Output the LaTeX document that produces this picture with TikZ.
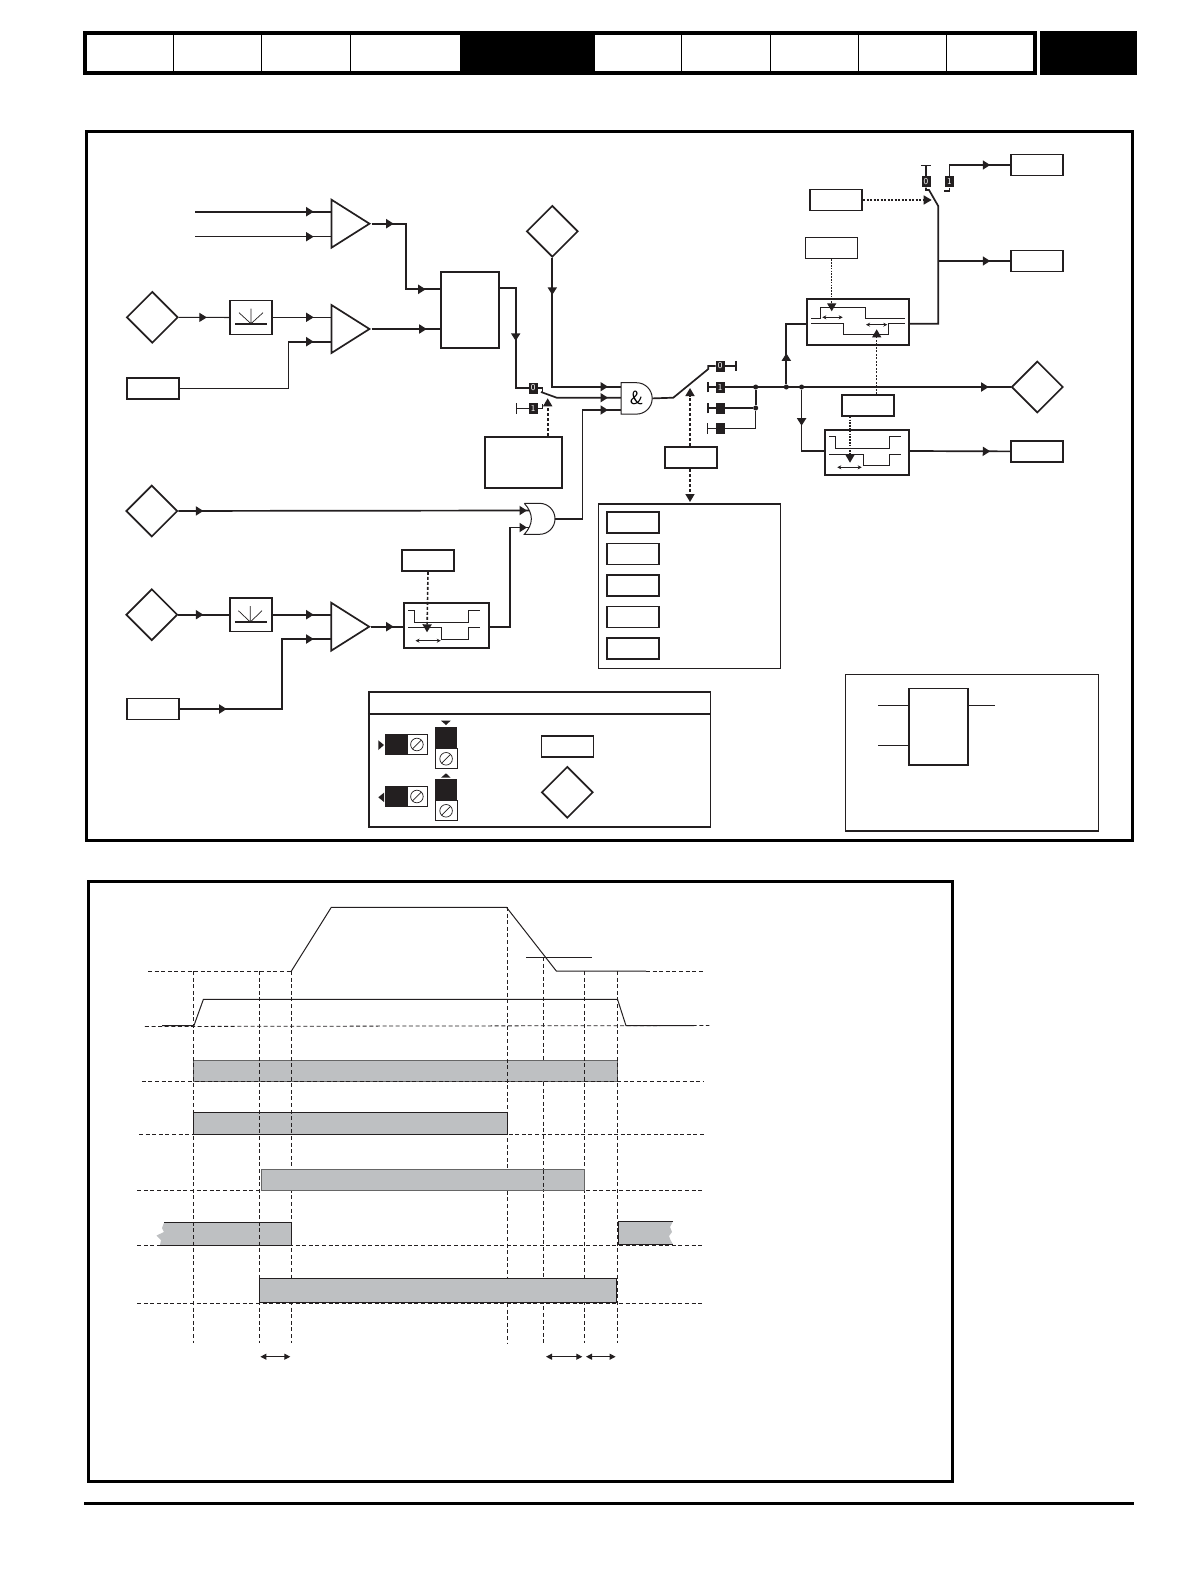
\documentclass[tikz,border=0pt]{standalone}
\usepackage{tikz}
\usetikzlibrary{arrows.meta,shapes.geometric,decorations.markings,positioning}
\definecolor{darkline}{HTML}{231F20}
\definecolor{bargrey}{HTML}{BEC0C2}
\tikzset{mid/.style={postaction={decorate,decoration={markings,
  mark=at position #1 with {\arrow{Triangle[length=7.5pt,width=9pt]}}}}}}
\tikzstyle{wire}=[draw=darkline,line width=1.7pt,line join=miter]
\tikzstyle{wirethin}=[wire,line width=1.1pt]
\tikzstyle{param}=[draw=darkline,line width=1.7pt,fill=white,inner sep=0,minimum width=52pt,minimum height=21pt]
\tikzstyle{diam}=[draw=darkline,line width=1.7pt,diamond,fill=white,inner sep=0,minimum width=51.5pt,minimum height=51.5pt]
\tikzstyle{amp}=[draw=darkline,line width=1.7pt,isosceles triangle,isosceles triangle stretches,inner sep=0,fill=white,minimum width=48pt,minimum height=38pt,anchor=apex]
\tikzstyle{term}=[fill=darkline,text=white,inner sep=0,minimum width=9pt,minimum height=11pt,font=\sffamily\fontsize{9}{9}\selectfont]
\tikzstyle{stub}=[wire,{Bar[width=10.5pt,length=1pt]}-]
\tikzstyle{blob}=[fill=darkline,circle,inner sep=0,minimum size=5pt]
\tikzstyle{box}=[draw=darkline,line width=1.7pt,fill=white,inner sep=0]
\tikzstyle{ramp}=[box,minimum width=42pt,minimum height=33.8pt]
\tikzstyle{gateline}=[draw=darkline,line width=1pt,fill=white]
\tikzstyle{ctl}=[draw=darkline,line width=1.6pt,dash pattern=on 3pt off 2pt,-{Triangle[length=8pt,width=9pt]}]
\tikzstyle{ctlthin}=[ctl,line width=1pt,dash pattern=on 2pt off 1.5pt]
\tikzstyle{gap}=[draw=darkline,line width=.8pt,{Stealth[length=4pt,width=4pt]}-{Stealth[length=4pt,width=4pt]}]
\tikzstyle{trace}=[draw=darkline,line width=1pt]
\tikzstyle{potbox}=[draw=darkline,line width=.8pt,fill=white,inner sep=0,minimum width=20pt,minimum height=20pt]
\tikzstyle{potring}=[draw=darkline,line width=.7pt,circle,inner sep=0,minimum size=12.6pt,
  path picture={\draw[darkline,line width=.7pt] (path picture bounding box.south west) -- (path picture bounding box.north east);}]
\tikzstyle{grid}=[draw=darkline,line width=.8pt,dash pattern=on 4pt off 2.6pt]
\tikzstyle{bar}=[draw=black!60,line width=1pt,fill=bargrey]
\tikzstyle{solidtrace}=[draw=darkline,line width=1pt]

\begin{document}
\begin{tikzpicture}[x=1pt,y=-1pt,node distance=31.5pt,on grid]
  \useasboundingbox (0,0) rectangle (1190,1582);

  % header strip
  \draw[black,line width=3.6pt] (84.8,33) rectangle (1035.2,73);
  \fill[black] (460.4,33) rectangle (595,73);
  \fill[black] (1040,31) rectangle (1137,75);
  \draw[black,line width=.7pt] (173,33) -- (173,73) (261.8,33) -- (261.8,73) (350.5,33) -- (350.5,73);
  \draw[black,line width=.7pt] (681.6,33) -- (681.6,73) (770,33) -- (770,73) (858.4,33) -- (858.4,73) (946.5,33) -- (946.5,73);

  % frames
  \draw[black,line width=3pt] (86.5,131) rectangle (1132.5,840);
  \draw[black,line width=3pt] (88.5,881) rectangle (952.5,1481);
  \draw[black,line width=2.4pt] (84,1503.5) -- (1134,1503.5);

  % inputs
  \node[diam] (din1) at (152.3,317.3) {};
  \node[diam] (din2) at (151.8,511) {};
  \node[diam] (din3) at (151.8,614.7) {};
  \node[diam] (dtop) at (552.3,231.3) {};
  \node[param] (parA) at (152.7,388.5) {};
  \node[param] (parB) at (152.8,709) {};
  \node[ramp] (ramp1) at (250.7,317.5) {};
  \node[ramp] (ramp2) at (250.7,614.7) {};
  \draw[darkline,line width=1.6pt] (235,323.7) -- (267,323.7);
  \draw[darkline,line width=.7pt] (251,308.7) -- (251,323.7) (239,312.7) -- (251,323.7) -- (263,312.7);
  \draw[darkline,line width=1.6pt] (234.8,622) -- (266.5,622);
  \draw[darkline,line width=.7pt] (250.3,606) -- (250.3,622) (238.4,610.7) -- (250.3,622) -- (262,610.7);

  \node[amp] (amp1) at (371.7,223.7) {};
  \node[amp] (amp2) at (371.7,329) {};
  \node[amp] (amp3) at (371.4,626.7) {};
  \coordinate (src1) at (195,211.7);
  \coordinate (src2) at (195,236.7);
  \coordinate (amp1a) at (331.7,211.7);
  \coordinate (amp1b) at (331.7,236.7);
  \coordinate (amp2a) at (331.7,317.3);
  \coordinate (amp2b) at (331.7,341.7);
  \coordinate (amp3a) at (331.7,614.7);
  \coordinate (amp3b) at (331.7,639);

  \node[box,minimum width=58.6pt,minimum height=76.6pt] (calc) at (470,310) {};
  \coordinate (calcA) at (440.7,289.3);
  \coordinate (calcB) at (440.7,329);
  \coordinate (calcO) at (499.3,288.3);

  \draw[wire,mid=-18pt] (src1) -- (amp1a);
  \draw[wirethin,mid=-18pt] (src2) -- (amp1b);
  \draw[wire,mid=22pt,mid=-15pt] (amp1.apex) -- ++(34,0) |- (calcA);
  \draw[wire,mid=-14pt] (amp2.apex) -- (calcB);
  \draw[wirethin,mid=28pt] (din1) -- (ramp1);
  \draw[wirethin,mid=-18pt] (ramp1.east |- amp2a) -- (amp2a);
  \draw[wire,mid=-18pt] (parA.east) -- ++(109,0) |- (amp2b);

  % selector before the gate
  \node[term] (sel0) at (533.2,388) {0};
  \node[term] (sel1) at (533.2,408.5) {1};
  \coordinate (sel1T) at (515.7,408.5);
  \coordinate (selknee) at (556.7,397.7);
  \draw[wire,mid=69pt] (calcO) -- ++(16.4,0) |- (sel0);
  \draw[stub,line width=1.1pt] (sel1T) -- (sel1);
  \draw[wirethin] (sel0.east) -- ++(4.3,0) -- ++(0,4.5);
  \draw[wirethin] (sel1.east) -- ++(4.3,0) -- ++(0,-4.5);

  % gates
  \coordinate (andA) at (621,386.7);
  \coordinate (andB) at (621,397.7);
  \coordinate (andC) at (621,410);
  \coordinate (orA) at (529,510.5);
  \coordinate (orB) at (529,527.5);
  \coordinate (orO) at (555,519);

  \draw[wire,mid=37pt,mid=-13pt] (dtop.south) |- (andA);
  \draw[wire,mid=-13pt] (541,392) -- (selknee) -- (andB);
  \draw[wire,mid=-13pt] (orO) -- ++(27.4,0) |- (andC);
  \draw[wire,mid=25pt,mid=-2pt] (din2) -- (orA);
  \draw[wire,mid=25pt] (din3) -- (ramp2);
  \draw[wire,mid=-18pt] (ramp2.east |- amp3a) -- (amp3a);
  \draw[wire,mid=47pt,mid=-18pt] (parB.east) -- ++(102.3,0) |- (amp3b);

  \draw[gateline] (621,382.7) -- (636.5,382.7) arc (-90:90:15.7) -- (621,414) -- cycle;
  \node[inner sep=0,minimum width=31pt,minimum height=31.4pt,font=\sffamily\fontsize{19}{19}\selectfont] (gand) at (636.6,398.4) {\&};
  \draw[gateline,fill=none] (524.3,503.3) -- (539.5,503.3) arc (-90:90:15.5) -- (524.3,534.3) .. controls (533.7,524) and (533.7,513.6) .. (524.3,503.3);
  \node[inner sep=0,minimum width=30pt,minimum height=31pt] (gor) at (539.5,518.8) {};

  \node[box,minimum width=77.6pt,minimum height=51.6pt] (enbox) at (523.5,462.5) {};
  \coordinate (enup) at (547.7,398.3);
  \draw[ctl] (enbox.north -| enup) -- (enup);

  % comparator with the window on the lower input
  \node[box,minimum width=85pt,minimum height=45pt] (hyst3) at (446.2,625.8) {};
  \node[param] (parH3) at (428,560.5) {};
  \coordinate (hyst3tip) at (427,632.3);
  \coordinate (hyst3in) at (403.7,626.7);
  \coordinate (hyst3out) at (488.7,626.7);
  \draw[wire,mid=-10pt] (amp3.apex) -- (hyst3in);
  \draw[wire,mid=-2pt] (hyst3out) -- ++(21.3,0) |- (orB);
  \draw[trace] (408.4,610.3) -- (414.4,610.3) -- (414.4,622.3) -- (468.5,622.3) -- (468.5,610.3) -- (479.6,610.3);
  \draw[trace] (408.4,627) -- (441.6,627) -- (441.6,639.7) -- (468.5,639.7) -- (468.5,627) -- (479.6,627);
  \draw[gap] (415.5,640.7) -- (440.8,640.7);
  \draw[ctl] (parH3.south) -- (hyst3tip);

  % output selector
  \coordinate (gknee) at (673.3,397.7);
  \node[term] (out0) at (720.3,366) {0};
  \node[term] (out1) at (720.3,387) {1};
  \node[term] (out2) at (720.3,408) {};
  \node[term] (out3) at (720.3,428.3) {};
  \coordinate (out0T) at (736.7,366);
  \coordinate (out1T) at (707.3,387);
  \coordinate (out2T) at (707.3,408);
  \coordinate (out3T) at (707.3,428.3);
  \node[blob] (j1) at (755.7,387) {};
  \node[blob] (j2) at (755.7,408) {};
  \node[blob] (j3) at (786.3,387) {};
  \node[blob] (j4) at (801.6,387) {};
  \node[diam] (dmain) at (1037.3,387) {};
  \draw[wire] (gand.east) -- (gknee) -- (708.3,369) -- (708.3,366) -- (out0);
  \draw[stub] (out0T) -- (out0);
  \draw[stub] (out1T) -- (out1);
  \draw[stub] (out2T) -- (out2);
  \draw[stub,line width=1.1pt] (out3T) -- (out3);
  \draw[wire,mid=-22pt] (out1) -- (dmain);
  \draw[wire] (out2) -- (j2);
  \draw[wirethin] (out3) -| (j2);
  \draw[wire] (j1) -- (j2);

  \node[param] (parS) at (691.2,457.5) {};
  \coordinate (ptrU) at (690,388);
  \coordinate (ptrD) at (690,502);
  \draw[ctl] (parS.north -| ptrU) -- (ptrU);
  \draw[ctl] (parS.south -| ptrD) -- (ptrD);

  % mode list
  \node[box,minimum width=182pt,minimum height=164.3pt] (modes) at (689.6,586.2) {};
  \node[param] (m1) at (632.8,522.5) {};
  \node[param,below=of m1] (m2) {};
  \node[param,below=of m2] (m3) {};
  \node[param,below=of m3] (m4) {};
  \node[param,below=of m4] (m5) {};

  % upper window comparator
  \node[box,minimum width=101.4pt,minimum height=46pt] (hyst1) at (858,322.3) {};
  \node[param] (parH1) at (831.4,248) {};
  \node[param] (parH2) at (868,405.5) {};
  \coordinate (hyst1in) at (807.3,323.7);
  \coordinate (hyst1out) at (908.7,323.7);
  \coordinate (hyst1t1) at (831.7,311.3);
  \coordinate (hyst1t2) at (876.7,329.3);
  \draw[wire,mid=31pt] (j3) |- (hyst1in);
  \draw[trace] (811,318.3) -- (820.3,318.3) -- (820.3,307.3) -- (865.7,307.3) -- (865.7,318.3) -- (905,318.3);
  \draw[trace] (811,323.3) -- (843.3,323.3) -- (843.3,334.3) -- (888.7,334.3) -- (888.7,323.3) -- (905,323.3);
  \draw[gap] (822.3,317.3) -- (842.7,317.3);
  \draw[gap] (866,324.7) -- (887.3,324.7);
  \draw[ctl,line width=1.3pt,dash pattern=on 1.6pt off 1.2pt] (parH1.south -| hyst1t1) -- (hyst1t1);
  \draw[ctlthin] (parH2.north -| hyst1t2) -- (hyst1t2);

  % lower window comparator
  \node[box,minimum width=84.6pt,minimum height=45pt] (hyst2) at (867,452.2) {};
  \coordinate (hyst2in) at (824.7,451);
  \coordinate (hyst2out) at (909.3,451);
  \coordinate (hyst2t) at (850,462.7);
  \draw[wire,mid=36pt] (j4) |- (hyst2in);
  \draw[trace] (829.3,436.3) -- (835.3,436.3) -- (835.3,448.3) -- (889.7,448.3) -- (889.7,436.3) -- (900.7,436.3);
  \draw[trace] (829.3,454.3) -- (863.3,454.3) -- (863.3,465.3) -- (889.7,465.3) -- (889.7,454.3) -- (900.7,454.3);
  \draw[gap] (837.3,467.3) -- (861.7,467.3);
  \draw[ctl,line width=1.3pt,dash pattern=on 1.6pt off 1.2pt] (parH2.south -| hyst2t) -- (hyst2t);

  % outputs
  \node[param] (parT) at (1037.1,165) {};
  \node[param] (parM) at (1037.1,261) {};
  \node[param] (parL) at (1037.1,451.5) {};
  \node[param] (parC) at (836.2,200) {};
  \node[term,minimum width=9pt,minimum height=11.6pt] (top0) at (926,181.5) {0};
  \node[term,minimum width=9pt,minimum height=11.6pt] (top1) at (949.4,181.5) {1};
  \coordinate (top0T) at (926,164.7);
  \coordinate (top1B) at (944,190.7);
  \coordinate (topknee) at (938.2,206);
  \coordinate (topjoin) at (938.2,261);
  \coordinate (topptr) at (931.7,200);
  \draw[wire,mid=-20pt] (hyst2out) -- (parL);
  \draw[wire,mid=-20pt] (topjoin) -- (parM);
  \draw[wire] (hyst1out) -| (topknee) -- (929,190) -- (926,190) -- (top0.south);
  \draw[stub] (top0T) -- (top0);
  \draw[wire,mid=-20pt] (top1.north) |- (parT);
  \draw[wire] (top1.south) |- (top1B);
  \draw[ctlthin,line width=1.3pt] (parC) -- (topptr);

  % key
  \node[box,minimum width=341.6pt,minimum height=135pt] (key) at (539.6,759.3) {};
  \draw[darkline,line width=1.7pt] (key.west |- 0,713.7) -- (key.east |- 0,713.7);
  \node[fill=darkline,inner sep=0,minimum width=21.7pt,minimum height=20.4pt] (kh1) at (395.8,744.5) {};
  \node[potbox,right=21.1pt of kh1] (kp1) {};
  \node[potring] (kr1) at (kp1) {};
  \node[fill=darkline,inner sep=0,minimum width=21.7pt,minimum height=20.4pt] (kh2) at (395.8,796.5) {};
  \node[potbox,right=21.1pt of kh2] (kp2) {};
  \node[potring] (kr2) at (kp2) {};
  \node[fill=darkline,inner sep=0,minimum width=21.7pt,minimum height=21.7pt] (kv1) at (446.1,737.8) {};
  \node[potbox,below=21pt of kv1,minimum width=21.7pt] (kq1) {};
  \node[potring] (ks1) at (kq1) {};
  \node[fill=darkline,inner sep=0,minimum width=21.7pt,minimum height=21.7pt] (kv2) at (446.1,789.8) {};
  \node[potbox,below=21pt of kv2,minimum width=21.7pt] (kq2) {};
  \node[potring] (ks2) at (kq2) {};
  \fill[darkline] (378.3,740.3) -- (384,745) -- (378.3,750) -- cycle;
  \fill[darkline] (378.3,797.3) -- (384,792.7) -- (384,802) -- cycle;
  \fill[darkline] (441,720.7) -- (450.7,720.7) -- (446,725) -- cycle;
  \fill[darkline] (441,777.7) -- (450.7,777.7) -- (446,773.3) -- cycle;
  \node[param] (kpar) at (567.5,746.5) {};
  \node[diam] (kdiam) at (567.3,792.3) {};

  % inset
  \draw[darkline,line width=1.3pt] (845.8,674.3) rectangle (1098.2,831);
  \node[box,minimum width=59pt,minimum height=76.7pt] (inset) at (938.8,726.7) {};
  \coordinate (insetA) at (878,705.3);
  \coordinate (insetB) at (878,745.3);
  \coordinate (insetO) at (995,705.3);
  \draw[wirethin] (insetA) -- (inset.west |- insetA);
  \draw[wirethin] (insetB) -- (inset.west |- insetB);
  \draw[wirethin] (inset.east |- insetO) -- (insetO);

  % timing chart, bars below the guides
  \draw[bar] (193.9,1060) rectangle (617.1,1081.7);
  \draw[bar,draw=darkline] (193.5,1112.7) rectangle (507.7,1134.7);
  \draw[draw=none,fill=bargrey] (164,1222.7) -- (162,1228) -- (164,1232) -- (156.5,1235.5) -- (161,1240) -- (160,1245) -- (291.1,1245) -- (291.1,1222.7) -- cycle;
  \draw[darkline,line width=1pt] (164,1222.7) -- (291.1,1222.7) -- (291.1,1245) -- (160,1245);
  \draw[draw=none,fill=bargrey] (618.3,1221) -- (673,1221) -- (670,1227) -- (672,1232) -- (669,1236) -- (670.5,1240) -- (673,1244.3) -- (618.3,1244.3) -- cycle;
  \draw[darkline,line width=1pt] (673,1221) -- (618.3,1221) -- (618.3,1244.3) -- (673,1244.3);

  \draw[grid] (148,971) -- (291.4,971);
  \draw[grid] (646,971) -- (702.9,971);
  \draw[grid] (144.9,1026.5) -- (709.3,1025.5);
  \draw[grid] (141.8,1081.7) -- (704.4,1081.7);
  \draw[grid] (139,1134.7) -- (704.4,1134.7);
  \draw[grid] (137.2,1190.7) -- (702.5,1190.7);
  \draw[grid] (137.2,1245.3) -- (702.5,1245.3);
  \draw[grid] (137.2,1303.3) -- (702.5,1303.3);

  \draw[grid] (193.2,971) -- (193.2,1342.7);
  \draw[grid] (259.5,971) -- (259.5,1342.7);
  \draw[grid] (291.4,971) -- (291.4,1342.7);
  \draw[grid] (507.8,907) -- (507.8,1342.7);
  \draw[grid] (543.3,957) -- (543.3,1060);
  \draw[grid] (543.3,1082) -- (543.3,1342.7);
  \draw[grid] (584.6,971) -- (584.6,1342.7);
  \draw[grid] (617,971) -- (617,1342.7);

  \draw[bar] (261.2,1169.3) rectangle (584.6,1190.3);
  \draw[grid] (543.3,1169.5) -- (543.3,1190);
  \draw[bar,draw=darkline] (259.4,1278.7) rectangle (616.4,1302.7);

  \draw[solidtrace] (291.4,971) -- (331.3,907.3) -- (506.5,907.3) -- (556.3,971) -- (646,971);
  \draw[solidtrace] (526.4,957.3) -- (591.5,957.3);
  \draw[solidtrace] (162,1025.7) -- (193.9,1025.7) -- (203.4,999.3) -- (617.5,999.3) -- (626,1025.7) -- (694,1025.7);

  \draw[gap,line width=1pt,{Triangle[length=6pt,width=6pt]}-{Triangle[length=6pt,width=6pt]}] (260.4,1356.7) -- (290.3,1356.7);
  \draw[gap,line width=1pt,{Triangle[length=6pt,width=6pt]}-{Triangle[length=6pt,width=6pt]}] (546,1356.7) -- (582.3,1356.7);
  \draw[gap,line width=1pt,{Triangle[length=6pt,width=6pt]}-{Triangle[length=6pt,width=6pt]}] (586,1356.7) -- (615.6,1356.7);
\end{tikzpicture}
\end{document}
